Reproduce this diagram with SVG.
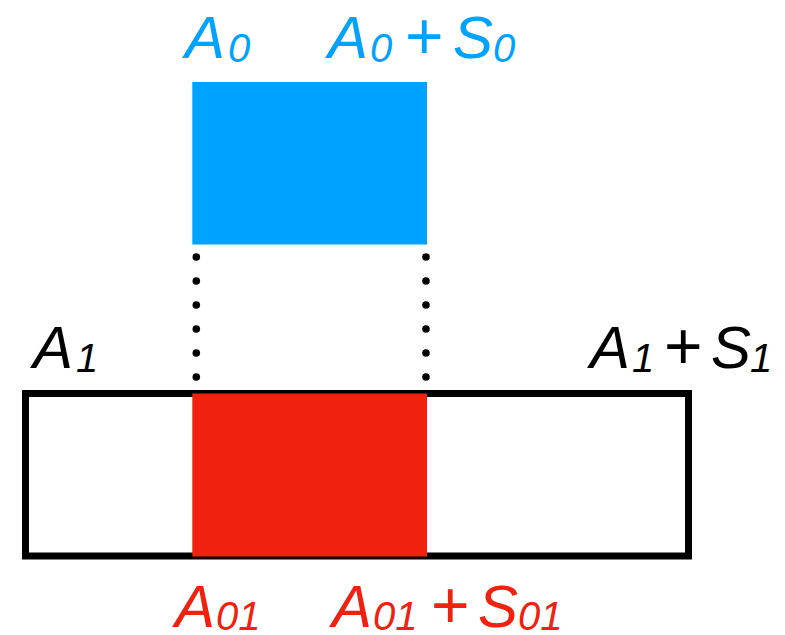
<svg xmlns="http://www.w3.org/2000/svg" width="785" height="635" viewBox="0 0 785 635">
<style>
.t{font-family:"Liberation Sans",Arial,sans-serif;font-style:italic;font-size:60px}
.s{font-size:40px}
.p{font-style:normal;font-size:66px}
.blue{fill:#00A2FF}
.red{fill:#EE220F}
.blk{fill:#000}
.dot{fill:#000}
</style>
<rect width="785" height="635" fill="#fff"/>
<g id="range1">
<rect x="25.5" y="393.5" width="663" height="162.5" fill="none" stroke="#000" stroke-width="7"/>
</g>
<g id="range0">
<rect x="192.3" y="82" width="234.7" height="162.5" fill="#00A2FF"/>
</g>
<g id="overlap">
<rect x="192.3" y="393.5" width="234.7" height="163" fill="#EE220F"/>
</g>
<g id="connectors">
<circle class="dot" cx="196.3" cy="257" r="3.8"/>
<circle class="dot" cx="196.3" cy="281" r="3.8"/>
<circle class="dot" cx="196.3" cy="305" r="3.8"/>
<circle class="dot" cx="196.3" cy="329" r="3.8"/>
<circle class="dot" cx="196.3" cy="353" r="3.8"/>
<circle class="dot" cx="196.3" cy="377" r="3.8"/>
<circle class="dot" cx="426" cy="257" r="3.8"/>
<circle class="dot" cx="426" cy="281" r="3.8"/>
<circle class="dot" cx="426" cy="305" r="3.8"/>
<circle class="dot" cx="426" cy="329" r="3.8"/>
<circle class="dot" cx="426" cy="353" r="3.8"/>
<circle class="dot" cx="426" cy="377" r="3.8"/>
</g>
<g id="labels-blue">
<text class="t blue"><tspan x="185" y="58">A</tspan><tspan class="s" x="228" y="62">0</tspan></text>
<text class="t blue"><tspan x="328" y="58">A</tspan><tspan class="s" x="370" y="62">0</tspan><tspan class="p" x="405" y="59">+</tspan><tspan x="453" y="58">S</tspan><tspan class="s" x="493" y="62">0</tspan></text>
</g>
<g id="labels-black">
<text class="t blk"><tspan x="33" y="368">A</tspan><tspan class="s" x="76" y="372">1</tspan></text>
<text class="t blk"><tspan x="590" y="368">A</tspan><tspan class="s" x="632" y="372">1</tspan><tspan class="p" x="664" y="369">+</tspan><tspan x="711" y="368">S</tspan><tspan class="s" x="750" y="372">1</tspan></text>
</g>
<g id="labels-red">
<text class="t red"><tspan x="175" y="627">A</tspan><tspan class="s" x="216" y="630">01</tspan></text>
<text class="t red"><tspan x="332" y="627">A</tspan><tspan class="s" x="373" y="630">01</tspan><tspan class="p" x="431" y="628">+</tspan><tspan x="478" y="627">S</tspan><tspan class="s" x="518" y="630">01</tspan></text>
</g>
</svg>
